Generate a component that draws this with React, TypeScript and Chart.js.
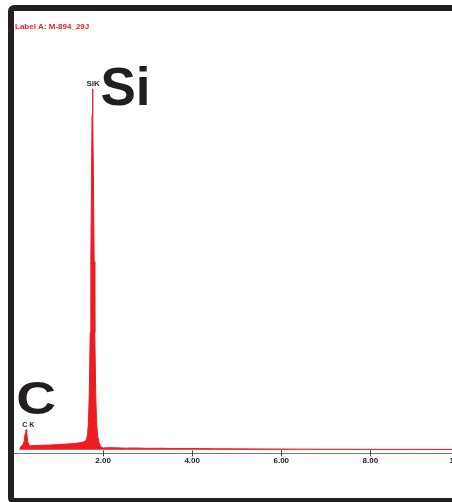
import React, { useEffect, useRef } from "react";
import { Chart, registerables } from "chart.js";

Chart.register(...registerables);

// Spectrum: energy (keV) and counts
const energyKeV = [
  0.13, 0.15, 0.18, 0.21, 0.23, 0.25, 0.265, 0.275, 0.285, 0.3, 0.315, 0.33, 0.36,
  0.45, 0.6, 0.8, 1.0, 1.2, 1.35, 1.45, 1.52, 1.57, 1.6, 1.63, 1.65, 1.67, 1.69,
  1.71, 1.725, 1.74, 1.752, 1.762, 1.772, 1.784, 1.799, 1.814, 1.834, 1.854, 1.88,
  1.91, 1.95, 2.0, 2.1, 2.3, 2.5, 2.7, 3.0, 3.3, 3.6, 4.0, 4.5, 5.0, 5.5, 6.0, 6.5,
  7.0, 8.0, 9.0, 10.0, 11.0,
];
const counts = [
  0, 30, 45, 55, 90, 160, 195, 200, 180, 110, 65, 45, 40,
  42, 45, 48, 52, 58, 62, 68, 75, 80, 85, 110, 150, 260, 560,
  1160, 1860, 2660, 3310, 3570, 3310, 2660, 1860, 1160, 560, 260, 130,
  70, 30, 18, 22, 20, 17, 19, 15, 16, 13, 14, 11, 10, 9, 8, 7,
  6, 5, 5, 4, 4,
];
const tickValues = [2, 4, 6, 8, 10];
const sampleLabel = "Label A: M-894_29J";
const peakNames = ["Si", "C"];
const peakLines = ["SiK", "C K"];
const peakEnergies = [1.762, 0.274];

const RED = "#ed1c24";
const INK = "#231f20";

const textPlugin = {
  id: "edsText",
  afterDraw(chart: any) {
    const ctx = chart.ctx;
    const xs = chart.scales.x;
    const ys = chart.scales.y;
    const axisY = chart.chartArea.bottom;
    ctx.save();
    // tick marks crossing the axis
    ctx.strokeStyle = "#444";
    ctx.lineWidth = 1;
    tickValues.forEach((v) => {
      const px = Math.round(xs.getPixelForValue(v)) + 0.5;
      ctx.beginPath();
      ctx.moveTo(px, axisY - 3);
      ctx.lineTo(px, axisY + 3);
      ctx.stroke();
    });
    // sample label
    ctx.fillStyle = RED;
    ctx.font = "bold 8px Arial, 'Liberation Sans', sans-serif";
    ctx.textBaseline = "alphabetic";
    ctx.textAlign = "left";
    ctx.fillText(sampleLabel, 1, 18);
    // Si labels
    const siX = xs.getPixelForValue(peakEnergies[0]);
    const siTop = ys.getPixelForValue(counts[energyKeV.indexOf(peakEnergies[0])]);
    ctx.fillStyle = INK;
    ctx.font = "bold 8px Arial, 'Liberation Sans', sans-serif";
    ctx.fillText(peakLines[0], siX - 6, siTop - 3);
    ctx.font = "bold 53px Arial, 'Liberation Sans', sans-serif";
    ctx.fillText(peakNames[0], siX + 8, siTop + 16);
    // C labels
    const cX = xs.getPixelForValue(peakEnergies[1]);
    const cTop = ys.getPixelForValue(200);
    ctx.font = "bold 7px Arial, 'Liberation Sans', sans-serif";
    ctx.fillText(peakLines[1], cX - 4, cTop - 3);
    ctx.font = "bold 46px Arial, 'Liberation Sans', sans-serif";
    ctx.save();
    ctx.translate(cX - 10, cTop - 16);
    ctx.scale(1.2, 1);
    ctx.fillText(peakNames[1], 0, 0);
    ctx.restore();
    ctx.restore();
  },
};

export default function App() {
  const ref = useRef<HTMLCanvasElement | null>(null);
  useEffect(() => {
    if (!ref.current) return;
    const points = energyKeV.map((e, i) => ({ x: e, y: counts[i] }));
    const chart = new Chart(ref.current, {
      type: "line",
      data: {
        datasets: [
          {
            data: points,
            borderColor: RED,
            backgroundColor: RED,
            borderWidth: 1,
            fill: "origin",
            pointRadius: 0,
            tension: 0,
          },
        ],
      },
      options: {
        animation: false,
        responsive: false,
        maintainAspectRatio: false,
        layout: { padding: 0 },
        plugins: { legend: { display: false }, tooltip: { enabled: false } },
        scales: {
          x: {
            type: "linear",
            min: 0,
            max: 11,
            grid: { display: false, drawTicks: false },
            border: { display: true, color: "#777", width: 1 },
            afterBuildTicks: (scale: any) => {
              scale.ticks = tickValues.map((v) => ({ value: v }));
            },
            ticks: {
              padding: 3,
              color: "#222",
              font: { family: "Arial, 'Liberation Sans', sans-serif", size: 8, weight: "bold" },
              callback: (v: any) => Number(v).toFixed(2),
              maxRotation: 0,
              autoSkip: false,
            },
          },
          y: { display: false, min: -35, max: 4340 },
        },
      },
      plugins: [textPlugin],
    });
    return () => chart.destroy();
  }, []);

  return (
    <div
      style={{
        position: "fixed",
        left: 8,
        top: 5,
        width: 444,
        height: 497,
        overflow: "hidden",
        background: "#fff",
      }}
    >
      <div
        style={{
          position: "absolute",
          left: 0,
          top: 0,
          width: 540,
          height: 499,
          boxSizing: "border-box",
          border: `6px solid ${INK}`,
          borderRadius: 6,
        }}
      >
        <canvas
          ref={ref}
          width={490}
          height={458}
          style={{ position: "absolute", left: 0, top: 0, width: 490, height: 458 }}
        />
      </div>
    </div>
  );
}
